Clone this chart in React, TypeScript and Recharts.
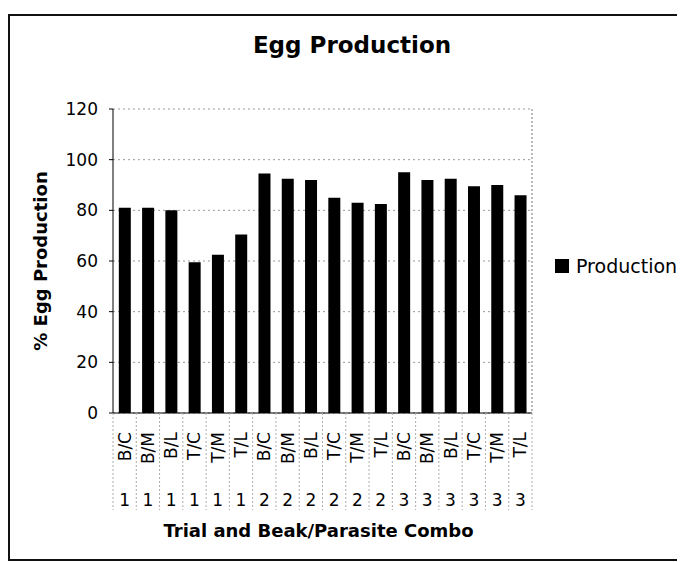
import React from 'react';
import { BarChart, Bar, XAxis, YAxis, CartesianGrid, Legend } from 'recharts';

const combos = ['B/C', 'B/M', 'B/L', 'T/C', 'T/M', 'T/L', 'B/C', 'B/M', 'B/L', 'T/C', 'T/M', 'T/L', 'B/C', 'B/M', 'B/L', 'T/C', 'T/M', 'T/L'];
const trials = ['1', '1', '1', '1', '1', '1', '2', '2', '2', '2', '2', '2', '3', '3', '3', '3', '3', '3'];
const production = [81, 81, 80, 59.5, 62.5, 70.5, 94.5, 92.5, 92, 85, 83, 82.5, 95, 92, 92.5, 89.5, 90, 86];
const yTicks = [0, 20, 40, 60, 80, 100, 120];

const data = combos.map((c, i) => ({ key: i, combo: c, trial: trials[i], Production: production[i] }));

const FONT = '"DejaVu Sans", Verdana, sans-serif';
const W = 677;
const H = 553;
const margin = { top: 101, right: 152, bottom: 0, left: 20 };
const Y_W = 85;
const X_H = H - 405;
const plotW = W - margin.left - margin.right - Y_W - 1;
const band = plotW / combos.length;

const XTick = (props: any) => {
  const { x, y, payload } = props;
  const i = Number(payload.value);
  const ty = y + 19;
  return (
    <g>
      <line x1={x - band / 2} x2={x - band / 2} y1={y} y2={y + 97} stroke="#aaa" strokeDasharray="2 2" />
      {i === combos.length - 1 && (
        <line x1={x + band / 2} x2={x + band / 2} y1={y} y2={y + 97} stroke="#aaa" strokeDasharray="2 2" />
      )}
      <text
        x={x}
        y={ty}
        transform={`rotate(-90, ${x}, ${ty})`}
        textAnchor="end"
        dominantBaseline="central"
        fontSize={17}
        fontFamily={FONT}
        fill="#000"
      >
        {combos[i]}
      </text>
      <text x={x} y={y + 93} textAnchor="middle" fontSize={17} fontFamily={FONT} fill="#000">
        {trials[i]}
      </text>
    </g>
  );
};

const YTitle = (props: any) => {
  const vb = props.viewBox || { x: margin.left, y: margin.top, width: Y_W, height: 304 };
  const cx = vb.x + 12;
  const cy = vb.y + vb.height / 2;
  return (
    <text
      x={cx}
      y={cy}
      transform={`rotate(-90, ${cx}, ${cy})`}
      textAnchor="middle"
      dominantBaseline="central"
      fontWeight="bold"
      fontSize={18}
      fontFamily={FONT}
      fill="#000"
    >
      % Egg Production
    </text>
  );
};

const XTitle = (props: any) => {
  const vb = props.viewBox || { x: 105, y: 405, width: plotW, height: X_H };
  return (
    <text
      x={vb.x + vb.width / 2 - 4}
      y={vb.y + 124}
      textAnchor="middle"
      fontWeight="bold"
      fontSize={18}
      fontFamily={FONT}
      fill="#000"
    >
      Trial and Beak/Parasite Combo
    </text>
  );
};

const LegendContent = (props: any) => {
  const items = props.payload || [];
  return (
    <div style={{ fontFamily: FONT, fontSize: 19, color: '#000' }}>
      {items.map((entry: any) => (
        <div key={entry.value} style={{ display: 'flex', alignItems: 'center', height: 14 }}>
          <span style={{ display: 'inline-block', width: 14, height: 14, background: '#000', marginRight: 7 }} />
          <span style={{ lineHeight: '14px' }}>{entry.value}</span>
        </div>
      ))}
    </div>
  );
};

export default function App() {
  return (
    <div style={{ position: 'relative', width: W, height: H, fontFamily: FONT }}>
      <div
        style={{
          position: 'absolute',
          left: 0,
          top: 6,
          width: W,
          height: 547,
          boxSizing: 'border-box',
          borderLeft: '2px solid #111',
          borderTop: '2px solid #111',
          borderBottom: '2px solid #111',
          pointerEvents: 'none',
        }}
      />
      <div
        style={{
          position: 'absolute',
          left: 100,
          top: 26,
          width: 488,
          textAlign: 'center',
          fontFamily: FONT,
          fontWeight: 'bold',
          fontSize: 23,
          lineHeight: '23px',
          color: '#000',
        }}
      >
        Egg Production
      </div>
      <BarChart width={W} height={H} data={data} margin={margin} barCategoryGap="25%">
        <CartesianGrid yAxisId="l" vertical={false} stroke="#999" strokeDasharray="2 3" />
        <XAxis
          dataKey="key"
          height={X_H}
          interval={0}
          axisLine={{ stroke: '#000' }}
          tickLine={false}
          tickSize={0}
          tickMargin={0}
          tick={<XTick />}
          label={XTitle}
        />
        <YAxis
          yAxisId="l"
          width={Y_W}
          domain={[0, 120]}
          ticks={yTicks}
          interval={0}
          axisLine={{ stroke: '#000' }}
          tickLine={{ stroke: '#000' }}
          tickSize={4}
          tickMargin={11}
          tick={{ fontSize: 17, fill: '#000', fontFamily: FONT }}
          label={YTitle}
        />
        <YAxis
          yAxisId="r"
          orientation="right"
          width={1}
          domain={[0, 120]}
          tick={false}
          tickLine={false}
          axisLine={{ stroke: '#777', strokeDasharray: '2 2' }}
        />
        <Legend
          layout="horizontal"
          verticalAlign="middle"
          align="center"
          wrapperStyle={{ left: 547, top: 251, width: 130, height: 16 }}
          content={LegendContent}
        />
        <Bar yAxisId="l" dataKey="Production" name="Production" fill="#000" isAnimationActive={false} />
      </BarChart>
    </div>
  );
}
